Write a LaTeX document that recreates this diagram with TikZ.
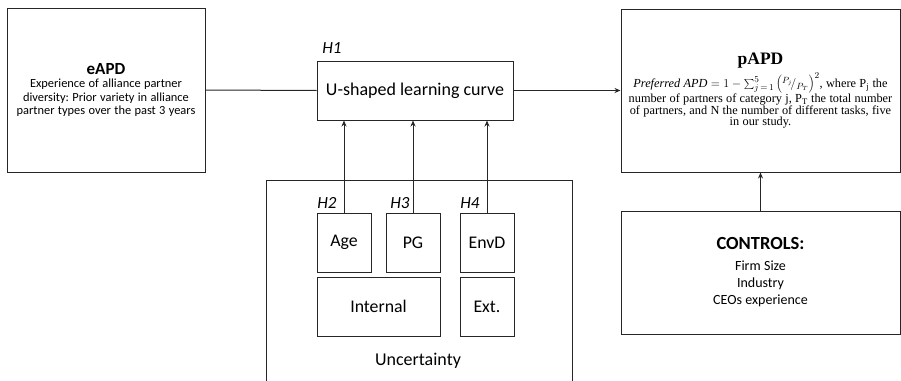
\documentclass[tikz,border=0pt]{standalone}
\usepackage{fontspec}
\setmainfont{Carlito}
\newfontfamily\timesf{Liberation Serif}
\usetikzlibrary{arrows.meta}
\frenchspacing
\begin{document}
\begin{tikzpicture}[x=1pt,y=-1pt,
  box/.style={draw=black!85, line width=1pt, rectangle, inner sep=0pt, align=center},
  conn/.style={draw=black!85, line width=1pt},
  arr/.style={conn, -{Stealth[length=6pt,width=5pt]}},
  hlab/.style={font=\fontsize{17}{20}\selectfont\itshape, inner sep=0pt}]
\useasboundingbox (0,0) rectangle (901,380);
% main boxes
\node[box, text width=198pt, minimum height=164pt] (eapd) at (106,90)
  {{\fontsize{17}{19}\selectfont\bfseries eAPD\par}
   \fontsize{12.4}{13.4}\selectfont Experience of alliance partner\\diversity: Prior variety in alliance\\partner types over the past 3 years\par};
\node[box, minimum width=196pt, minimum height=59pt, font=\fontsize{18}{20}\selectfont] (u) at (415,90.5) {U-shaped learning curve};
\node[hlab] (h1) at (332,48) {H1};
\node[box, text width=279pt, minimum height=163pt] (papd) at (760.5,90.5)
  {\timesf{\fontsize{17.5}{19}\selectfont\bfseries pAPD\par}\vspace{10pt}
   \fontsize{12.3}{11.6}\selectfont \textit{Preferred APD} \smash{$=1-\sum_{j\,=\,1}^{5}\left({}^{P_j}\!/_{P_T}\right)^{2}$}, where P\textsubscript{j} the\\[2pt]number of partners of category j, P\textsubscript{T} the total number\\of partners, and N the number of different tasks, five\\in our study.\par\vspace*{4pt}};
\node[box, text width=279pt, minimum height=123pt] (ctrl) at (760.5,272.5)
  {\vspace{4pt}{\fontsize{18.5}{19}\selectfont\bfseries CONTROLS:\par}
   \fontsize{14}{17}\selectfont Firm Size\\Industry\\CEOs experience\par};
% uncertainty frame
\coordinate (ubl) at (266,385);
\coordinate (utl) at (266,180);
\coordinate (utr) at (572,180);
\coordinate (ubr) at (572,385);
\draw[conn] (ubl) -- (utl) -- (utr) -- (ubr);
\node[font=\fontsize{18}{20}\selectfont] (unc) at (418,361) {Uncertainty};
% inner boxes
\tikzset{small/.style={box, font=\fontsize{17.8}{20}\selectfont}}
\node[small, minimum width=54pt, minimum height=59pt] (age) at (344,242.5) {Age};
\node[small, minimum width=54pt, minimum height=59pt] (pg) at (413,242.5) {PG};
\node[small, minimum width=54pt, minimum height=59pt] (envd) at (487,242.5) {EnvD};
\node[small, minimum width=123pt, minimum height=59pt] (int) at (378.5,306.5) {Internal};
\node[small, minimum width=54pt, minimum height=59pt] (ext) at (487,306.5) {Ext.};
\node[hlab] (h2) at (327,203) {H2};
\node[hlab] (h3) at (400,203) {H3};
\node[hlab] (h4) at (470,203) {H4};
% connectors
\draw[conn] (eapd.east) -- (u.west);
\draw[arr] (u.east) -- (papd.west);
\draw[arr] (ctrl.north) -- (papd.south);
\draw[arr] (age.north) -- (age.north |- u.south);
\draw[arr] (pg.north) -- (pg.north |- u.south);
\draw[arr] (envd.north) -- (envd.north |- u.south);
\end{tikzpicture}
\end{document}
